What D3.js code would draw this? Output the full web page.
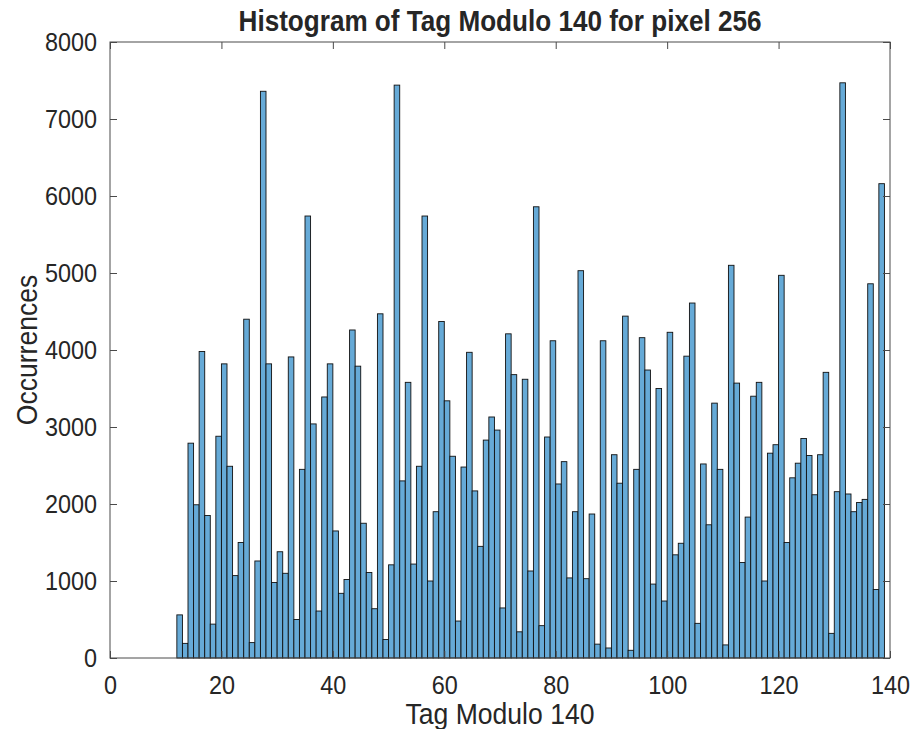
<!DOCTYPE html>
<html>
<head>
<meta charset="utf-8">
<script src="https://cdn.jsdelivr.net/npm/d3@7"></script>
<style>
  html, body { margin: 0; padding: 0; background: #fff; }
  svg { display: block; }
  text { font-family: "Liberation Sans", Arial, Helvetica, sans-serif; fill: #262626; }
</style>
</head>
<body>
<svg id="chart" width="911" height="729"></svg>
<script>
// Histogram bins: each bin k covers [k, k+1)
const binStart = 12;
const counts = [
  560, 190, 2790, 1990, 3980, 1850, 440, 2880, 3820, 2490,
  1070, 1500, 4400, 200, 1260, 7360, 3820, 980, 1380, 1100,
  3910, 500, 2450, 5740, 3040, 610, 3390, 3820, 1650, 840,
  1020, 4260, 3790, 1750, 1110, 640, 4470, 240, 1210, 7440,
  2300, 3580, 1220, 2490, 5740, 1000, 1900, 4370, 3340, 2620,
  480, 2480, 3970, 2170, 1450, 2830, 3130, 2960, 650, 4210,
  3680, 340, 3620, 1130, 5860, 420, 2870, 4120, 2260, 2550,
  1040, 1900, 5030, 1030, 1870, 180, 4120, 130, 2640, 2270,
  4440, 100, 2450, 4160, 3740, 960, 3500, 740, 4230, 1340,
  1490, 3920, 4610, 450, 2520, 1730, 3310, 2450, 170, 5100,
  3570, 1240, 1830, 3400, 3580, 1000, 2660, 2770, 4970, 1500,
  2340, 2530, 2850, 2630, 2120, 2640, 3710, 320, 2160, 7470,
  2130, 1900, 2020, 2060, 4860, 890, 6160
];
const bins = counts.map((c, i) => ({ x0: binStart + i, x1: binStart + i + 1, count: c }));

const xTicks = [0, 20, 40, 60, 80, 100, 120, 140];
const yTicks = [0, 1000, 2000, 3000, 4000, 5000, 6000, 7000, 8000];

const titleText = "Histogram of Tag Modulo 140 for pixel 256";
const xLabel = "Tag Modulo 140";
const yLabel = "Occurrences";

const svg = d3.select("#chart");
const m = { left: 110, right: 890, top: 42, bottom: 658 };
const squeeze = 0.9; // narrow glyph width

const x = d3.scaleLinear().domain([0, 140]).range([m.left, m.right]);
const y = d3.scaleLinear().domain([0, 8000]).range([m.bottom, m.top]);

// bars
svg.append("g")
  .selectAll("rect")
  .data(bins)
  .join("rect")
  .attr("x", d => x(d.x0))
  .attr("y", d => y(d.count))
  .attr("width", d => x(d.x1) - x(d.x0))
  .attr("height", d => y(0) - y(d.count))
  .attr("fill", "#66aad7")
  .attr("stroke", "#111")
  .attr("stroke-width", 0.9);

// axes with inward ticks on all four sides
const tickLen = 7;
const axisColor = "#4a4a4a";
const tickFont = "26px";

function styleAxis(g, showLabels) {
  g.select(".domain").remove();
  g.selectAll(".tick line").attr("stroke", axisColor).attr("stroke-width", 1);
  g.selectAll(".tick text")
    .style("font-size", tickFont)
    .attr("fill", "#262626")
    .style("display", showLabels ? null : "none");
}

svg.append("g")
  .attr("transform", `translate(0,${m.bottom})`)
  .call(d3.axisBottom(x).tickValues(xTicks).tickSize(-tickLen).tickPadding(tickLen + 11))
  .call(g => styleAxis(g, true))
  .call(g => g.selectAll(".tick text").attr("transform", `scale(${squeeze},1)`));

svg.append("g")
  .attr("transform", `translate(0,${m.top})`)
  .call(d3.axisTop(x).tickValues(xTicks).tickSize(-tickLen))
  .call(g => styleAxis(g, false));

svg.append("g")
  .attr("transform", `translate(${m.left},0)`)
  .call(d3.axisLeft(y).tickValues(yTicks).tickFormat(d3.format("d")).tickSize(-tickLen).tickPadding(tickLen + 6))
  .call(g => styleAxis(g, true))
  .call(g => g.selectAll(".tick text")
    .attr("x", -13)
    .attr("transform", `translate(-13,0) scale(${squeeze},1) translate(13,0)`));

svg.append("g")
  .attr("transform", `translate(${m.right},0)`)
  .call(d3.axisRight(y).tickValues(yTicks).tickSize(-tickLen))
  .call(g => styleAxis(g, false));

// box
svg.append("rect")
  .attr("x", m.left).attr("y", m.top)
  .attr("width", m.right - m.left).attr("height", m.bottom - m.top)
  .attr("fill", "none").attr("stroke", axisColor).attr("stroke-width", 1);

// title and labels
const cx = (m.left + m.right) / 2;
svg.append("text")
  .attr("transform", `translate(${cx},31) scale(${squeeze},1)`)
  .attr("text-anchor", "middle")
  .style("font-size", "29px").style("font-weight", "bold")
  .attr("fill", "#000")
  .text(titleText);

svg.append("text")
  .attr("transform", `translate(${cx},724) scale(${squeeze},1)`)
  .attr("text-anchor", "middle")
  .style("font-size", "29.5px")
  .text(xLabel);

svg.append("text")
  .attr("transform", `translate(37,${(m.top + m.bottom) / 2}) rotate(-90) scale(${squeeze},1)`)
  .attr("text-anchor", "middle")
  .style("font-size", "29.5px")
  .text(yLabel);
</script>
</body>
</html>
